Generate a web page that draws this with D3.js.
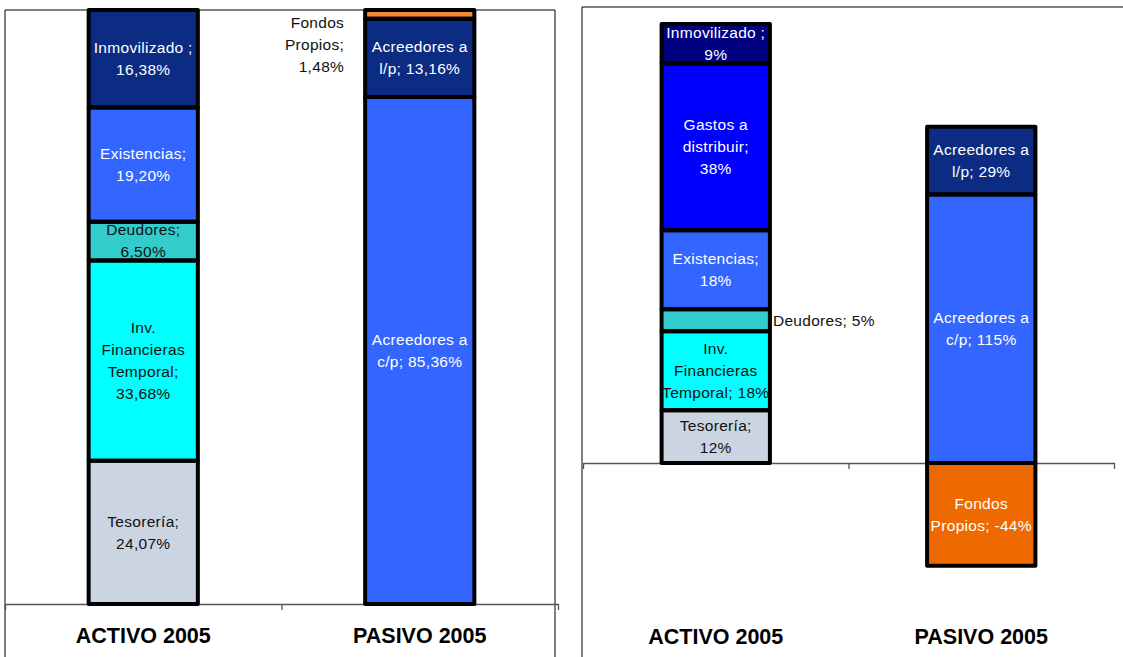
<!DOCTYPE html>
<html>
<head>
<meta charset="utf-8">
<script src="https://cdn.jsdelivr.net/npm/d3@7"></script>
<style>
  html, body { margin: 0; padding: 0; background: #fff; }
  svg { display: block; font-family: "Liberation Sans", Arial, sans-serif; }
</style>
</head>
<body>
<svg id="chart" width="1123" height="657"></svg>
<script>
// ---------- DATA ----------
const categories = ["ACTIVO 2005", "PASIVO 2005"];

// Left chart (values in %)
const leftActivoNames  = ["Tesorería", "Inv. Financieras Temporal", "Deudores", "Existencias", "Inmovilizado"];
const leftActivoValues = [24.07, 33.68, 6.50, 19.20, 16.38];
const leftActivoText   = ["Tesorería;\n24,07%", "Inv.\nFinancieras\nTemporal;\n33,68%", "Deudores;\n6,50%", "Existencias;\n19,20%", "Inmovilizado ;\n16,38%"];
const leftActivoColors = ["#CBD5E1", "#00FFFF", "#33CCCC", "#3366FF", "#0B2C82"];

const leftPasivoNames  = ["Acreedores a c/p", "Acreedores a l/p", "Fondos Propios"];
const leftPasivoValues = [85.36, 13.16, 1.48];
const leftPasivoText   = ["Acreedores a\nc/p; 85,36%", "Acreedores a\nl/p; 13,16%", "Fondos\nPropios;\n1,48%"];
const leftPasivoColors = ["#3366FF", "#0B2C82", "#F28A2E"];

// Right chart (values in %)
const rightActivoNames  = ["Tesorería", "Inv. Financieras Temporal", "Deudores", "Existencias", "Gastos a distribuir", "Inmovilizado"];
const rightActivoValues = [12, 18, 5, 18, 38, 9];
const rightActivoText   = ["Tesorería;\n12%", "Inv.\nFinancieras\nTemporal; 18%", "Deudores; 5%", "Existencias;\n18%", "Gastos a\ndistribuir;\n38%", "Inmovilizado ;\n9%"];
const rightActivoColors = ["#CBD5E1", "#00FFFF", "#33CCCC", "#3366FF", "#0000FF", "#000080"];

const rightPasivoNames  = ["Acreedores a c/p", "Acreedores a l/p", "Fondos Propios"];
const rightPasivoValues = [115, 29, -44];
const rightPasivoText   = ["Acreedores a\nc/p; 115%", "Acreedores a\nl/p; 29%", "Fondos\nPropios; -44%"];
const rightPasivoColors = ["#3366FF", "#0B2C82", "#EE6A00"];

// ---------- DRAW ----------
const svg = d3.select("#chart");
const darkFills = new Set(["#0B2C82", "#3366FF", "#0000FF", "#000080", "#EE6A00"]);

function buildStack(names, values, texts, colors) {
  const total = d3.sum(values, v => Math.abs(v));
  let pos = 0, neg = 0;
  return values.map((v, i) => {
    const f = v / total;
    let y0, y1;
    if (v >= 0) { y0 = pos; y1 = pos + f; pos = y1; }
    else { y1 = neg; y0 = neg + f; neg = y0; }
    return { name: names[i], value: v, text: texts[i], color: colors[i], lo: Math.min(y0, y1), hi: Math.max(y0, y1) };
  });
}

function drawChart(cfg) {
  const g = svg.append("g");
  const x = d3.scaleBand().domain(categories).range([cfg.xLeft, cfg.xRight]).padding(0);
  const y = d3.scaleLinear().domain([0, 1]).range([cfg.yZero, cfg.yOne]);
  const barW = x.bandwidth() * cfg.barFrac;

  // frame
  g.append("path")
    .attr("d", cfg.framePath)
    .attr("fill", "none").attr("stroke", "#000").attr("stroke-width", 1);

  // baseline axis with ticks at band edges
  const edge = d3.scaleLinear().domain([0, categories.length]).range([cfg.xLeft, cfg.xRight]);
  const ax = g.append("g").attr("transform", `translate(0,${y(0)})`)
    .call(d3.axisBottom(edge).tickValues(d3.range(categories.length + 1)).tickFormat("").tickSize(6).tickSizeOuter(0));
  ax.select(".domain").attr("stroke", "#555").attr("stroke-width", 1.3);
  ax.selectAll(".tick line").attr("stroke", "#555").attr("stroke-width", 1.3);

  // category labels
  const lab = g.append("g").attr("transform", `translate(0,${y(0)})`)
    .call(d3.axisBottom(x).tickSize(0).tickPadding(cfg.labelPad));
  lab.select(".domain").remove();
  lab.selectAll("text")
    .attr("font-family", "'Liberation Sans', Arial, sans-serif")
    .attr("font-size", 21.5).attr("font-weight", "bold").attr("fill", "#000");

  cfg.series.forEach((stack, ci) => {
    const cat = categories[ci];
    const bx = x(cat) + (x.bandwidth() - barW) / 2;
    const cx = x(cat) + x.bandwidth() / 2;
    const bg = g.append("g");
    bg.selectAll("rect.fill").data(stack).join("rect")
      .attr("class", "fill")
      .attr("x", bx).attr("width", barW)
      .attr("y", d => y(d.hi)).attr("height", d => y(d.lo) - y(d.hi))
      .attr("fill", d => d.color);

    // labels
    stack.forEach(d => {
      const lines = d.text.split("\n");
      const lh = 22;
      let tx = cx, anchor = "middle";
      let cy = (y(d.hi) + y(d.lo)) / 2;
      const outside = cfg.outside && cfg.outside[d.name] && cfg.outside[d.name][ci];
      let color = darkFills.has(d.color) ? "#fff" : "#111";
      if (outside === "left") {
        tx = bx - 21; anchor = "end"; color = "#111";
        cy = y(d.hi) + lh * (lines.length - 1) / 2 + 13;
      } else if (outside === "right") {
        tx = bx + barW + 3; anchor = "start"; color = "#111";
      }
      const t = bg.append("text")
        .attr("text-anchor", anchor)
        .attr("font-size", 15.5).attr("letter-spacing", 0.3)
        .attr("fill", color);
      lines.forEach((ln, li) => {
        t.append("tspan").attr("x", tx)
          .attr("y", cy + (li - (lines.length - 1) / 2) * lh)
          .attr("dy", "0.35em").text(ln);
      });
    });

    bg.selectAll("rect.edge").data(stack).join("rect")
      .attr("class", "edge")
      .attr("x", bx).attr("width", barW)
      .attr("y", d => y(d.hi)).attr("height", d => y(d.lo) - y(d.hi))
      .attr("fill", "none").attr("stroke", "#000").attr("stroke-width", 4)
      .attr("stroke-linejoin", "round");
  });
}

drawChart({
  xLeft: 5, xRight: 558, yZero: 604, yOne: 10, barFrac: 0.395, labelPad: 24,
  framePath: "M5,657V10H555V657",
  series: [
    buildStack(leftActivoNames, leftActivoValues, leftActivoText, leftActivoColors),
    buildStack(leftPasivoNames, leftPasivoValues, leftPasivoText, leftPasivoColors)
  ],
  outside: { "Fondos Propios": [null, "left"] }
});

drawChart({
  xLeft: 583, xRight: 1114, yZero: 463, yOne: 24, barFrac: 0.408, labelPad: 166,
  framePath: "M582,657V7H1123",
  series: [
    buildStack(rightActivoNames, rightActivoValues, rightActivoText, rightActivoColors),
    buildStack(rightPasivoNames, rightPasivoValues, rightPasivoText, rightPasivoColors)
  ],
  outside: { "Deudores": ["right", null] }
});
</script>
</body>
</html>
